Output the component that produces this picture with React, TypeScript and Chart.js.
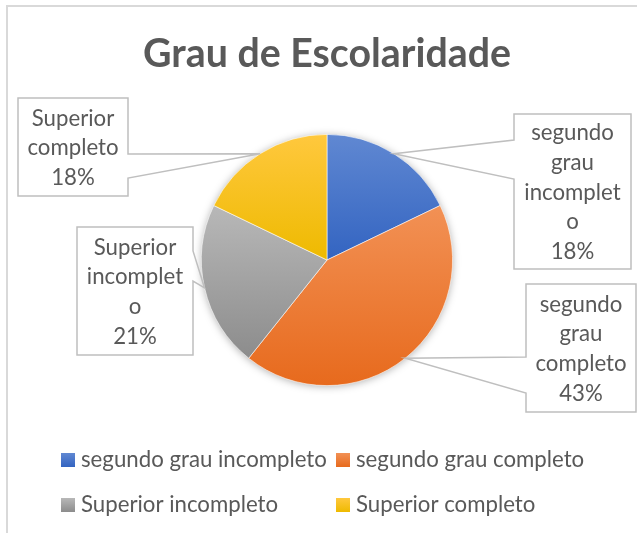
import React, { useEffect, useRef } from "react";
import { Chart, registerables } from "chart.js";

Chart.register(...registerables);

// ---- data ----
const categories = [
  "segundo grau incompleto",
  "segundo grau completo",
  "Superior incompleto",
  "Superior completo",
];
const counts = [5, 12, 6, 5];
const titleText = "Grau de Escolaridade";

// ---- styles ----
const gradientTop = ["#6088d2", "#f29155", "#b8b8b8", "#ffc83e"];
const gradientBottom = ["#3364c1", "#e76a1d", "#8c8c8c", "#eeba00"];
const TEXT_COLOR = "#595959";
const FONT_FAMILY = "Lato, 'Open Sans', 'Noto Sans', sans-serif";

// callout boxes: [x0, y0, x1, y1], side where the pointer leaves, and the pointer base y's
const calloutBoxes = [
  { box: [514, 114, 631, 269], side: "left", base: [140, 179] },
  { box: [526, 284, 636, 412], side: "left", base: [357, 393] },
  { box: [77, 227, 193, 355], side: "right", base: [251, 281] },
  { box: [18, 98, 128, 196], side: "right", base: [154, 178] },
];
const legendSlots = [
  [61, 460],
  [336, 460],
  [61, 505],
  [336, 505],
];

const total = counts.reduce((a, b) => a + b, 0);

function fitSize(ctx: CanvasRenderingContext2D, text: string, weight: string, target: number) {
  ctx.font = `${weight} 100px ${FONT_FAMILY}`;
  const w = ctx.measureText(text).width;
  return (100 * target) / w;
}

function wrap(ctx: CanvasRenderingContext2D, text: string, maxW: number): string[] {
  const words = text.split(" ");
  const lines: string[] = [];
  let cur = "";
  const pushWord = (word: string) => {
    if (ctx.measureText(word).width <= maxW) {
      cur = word;
      return;
    }
    let piece = "";
    for (const ch of word) {
      if (ctx.measureText(piece + ch).width > maxW && piece) {
        lines.push(piece);
        piece = ch;
      } else piece += ch;
    }
    cur = piece;
  };
  for (const w of words) {
    if (!cur) {
      pushWord(w);
    } else if (ctx.measureText(cur + " " + w).width <= maxW) {
      cur = cur + " " + w;
    } else {
      lines.push(cur);
      cur = "";
      pushWord(w);
    }
  }
  if (cur) lines.push(cur);
  return lines;
}

function sliceAngles(i: number) {
  let before = 0;
  for (let k = 0; k < i; k++) before += counts[k];
  const start = -Math.PI / 2 + (2 * Math.PI * before) / total;
  const end = start + (2 * Math.PI * counts[i]) / total;
  return [start, end];
}

function sliceYRange(cy: number, r: number, start: number, end: number) {
  const ys = [cy, cy + r * Math.sin(start), cy + r * Math.sin(end)];
  for (let k = -2; k <= 3; k++) {
    const top = -Math.PI / 2 + 2 * Math.PI * k;
    const bot = Math.PI / 2 + 2 * Math.PI * k;
    if (top > start && top < end) ys.push(cy - r);
    if (bot > start && bot < end) ys.push(cy + r);
  }
  return [Math.min(...ys), Math.max(...ys)];
}

const decorPlugin = {
  id: "decor",
  beforeDatasetsDraw(chart: any) {
    const meta = chart.getDatasetMeta(0);
    const el = meta.data[0];
    if (!el) return;
    const { x, y, outerRadius } = el.getProps(["x", "y", "outerRadius"], true);
    const ctx = chart.ctx as CanvasRenderingContext2D;
    ctx.save();
    ctx.shadowColor = "rgba(0,0,0,0.35)";
    ctx.shadowBlur = 8;
    ctx.shadowOffsetY = 1;
    ctx.fillStyle = "#ffffff";
    ctx.beginPath();
    ctx.arc(x, y, outerRadius - 0.5, 0, Math.PI * 2);
    ctx.fill();
    ctx.restore();
  },
  afterDraw(chart: any) {
    const ctx = chart.ctx as CanvasRenderingContext2D;
    ctx.save();

    // frame
    ctx.fillStyle = "#d9d9d9";
    ctx.fillRect(6, 5, 2, 600);
    ctx.fillRect(6, 5, 700, 2);

    // title
    const tSize = fitSize(ctx, titleText, "bold", 368);
    ctx.font = `bold ${tSize}px ${FONT_FAMILY}`;
    ctx.fillStyle = TEXT_COLOR;
    ctx.textAlign = "center";
    ctx.textBaseline = "alphabetic";
    ctx.fillText(titleText, 327, 67);

    const size = fitSize(ctx, categories[0], "normal", 246);
    ctx.font = `${size}px ${FONT_FAMILY}`;

    // callouts
    const meta = chart.getDatasetMeta(0);
    meta.data.forEach((arc: any, i: number) => {
      const { x, y, startAngle, endAngle, outerRadius } = arc.getProps(
        ["x", "y", "startAngle", "endAngle", "outerRadius"],
        true
      );
      const mid = (startAngle + endAngle) / 2;
      const tx = x + Math.cos(mid) * outerRadius;
      const ty = y + Math.sin(mid) * outerRadius;
      const c = calloutBoxes[i];
      const [x0, y0, x1, y1] = c.box;
      const [b1, b2] = c.base;

      ctx.fillStyle = "#ffffff";
      ctx.fillRect(x0, y0, x1 - x0, y1 - y0);
      ctx.beginPath();
      if (c.side === "left") {
        ctx.moveTo(x0, y0);
        ctx.lineTo(x1, y0);
        ctx.lineTo(x1, y1);
        ctx.lineTo(x0, y1);
        ctx.lineTo(x0, b2);
        ctx.lineTo(tx, ty);
        ctx.lineTo(x0, b1);
        ctx.closePath();
      } else {
        ctx.moveTo(x0, y0);
        ctx.lineTo(x1, y0);
        ctx.lineTo(x1, b1);
        ctx.lineTo(tx, ty);
        ctx.lineTo(x1, b2);
        ctx.lineTo(x1, y1);
        ctx.lineTo(x0, y1);
        ctx.closePath();
      }
      ctx.strokeStyle = "#bfbfbf";
      ctx.lineWidth = 1.5;
      ctx.lineJoin = "miter";
      ctx.stroke();

      const pct = Math.round((counts[i] / total) * 100) + "%";
      const lines = wrap(ctx, categories[i], x1 - x0 - 12);
      lines.push(pct);
      const lh = 29.6;
      const cx = (x0 + x1) / 2;
      const cy = (y0 + y1) / 2;
      ctx.fillStyle = TEXT_COLOR;
      ctx.textAlign = "center";
      ctx.textBaseline = "middle";
      lines.forEach((ln, k) => {
        ctx.fillText(ln, cx, cy + (k - (lines.length - 1) / 2) * lh + 1);
      });
    });

    // legend
    ctx.textAlign = "left";
    ctx.textBaseline = "middle";
    categories.forEach((cat, i) => {
      const [lx, ly] = legendSlots[i];
      const g = ctx.createLinearGradient(0, ly - 7, 0, ly + 7);
      g.addColorStop(0, gradientTop[i]);
      g.addColorStop(1, gradientBottom[i]);
      ctx.fillStyle = g;
      ctx.fillRect(lx, ly - 7, 14, 14);
      ctx.fillStyle = TEXT_COLOR;
      ctx.fillText(cat, lx + 20, ly);
    });

    ctx.restore();
  },
};

export default function App() {
  const ref = useRef<HTMLCanvasElement | null>(null);
  useEffect(() => {
    document.body.style.margin = "0";
    const canvas = ref.current;
    if (!canvas) return;
    const chart = new Chart(canvas, {
      type: "pie",
      data: {
        labels: categories,
        datasets: [
          {
            data: counts,
            borderColor: "rgba(255,255,255,0.7)",
            borderWidth: 0.8,
            backgroundColor: (c: any) => {
              const i = c.dataIndex ?? 0;
              const area = c.chart.chartArea;
              if (!area) return gradientTop[i];
              const cx = (area.left + area.right) / 2;
              const cy = (area.top + area.bottom) / 2;
              const r = Math.min(area.width, area.height) / 2;
              const [s, e] = sliceAngles(i);
              const [ya, yb] = sliceYRange(cy, r, s, e);
              const g = c.chart.ctx.createLinearGradient(0, ya, 0, yb);
              g.addColorStop(0, gradientTop[i]);
              g.addColorStop(1, gradientBottom[i]);
              return g;
            },
          },
        ],
      },
      options: {
        animation: false,
        responsive: false,
        maintainAspectRatio: false,
        devicePixelRatio: 1,
        events: [],
        layout: { padding: { left: 201, right: 184, top: 134, bottom: 147 } },
        plugins: {
          legend: { display: false },
          title: { display: false },
          tooltip: { enabled: false },
        },
      },
      plugins: [decorPlugin],
    });
    return () => chart.destroy();
  }, []);
  return (
    <canvas
      ref={ref}
      width={637}
      height={533}
      style={{ position: "fixed", left: 0, top: 0, width: 637, height: 533, background: "#ffffff" }}
    />
  );
}
